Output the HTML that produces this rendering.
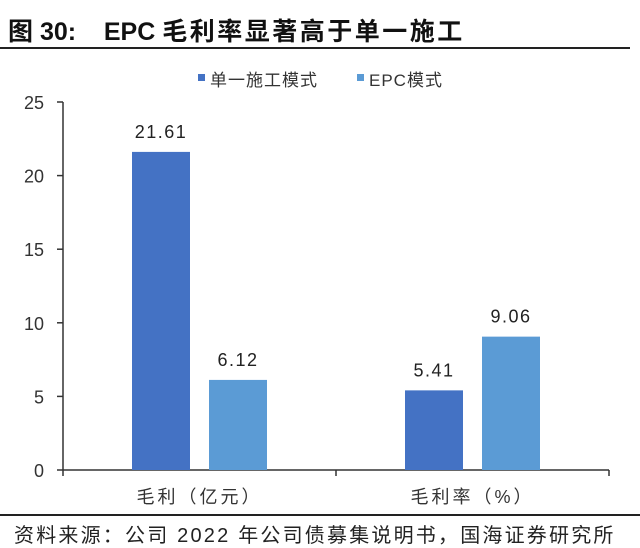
<!DOCTYPE html>
<html><head><meta charset="utf-8"><style>
body{margin:0;background:#fff;}
svg{display:block;font-family:"Liberation Sans","Noto Sans CJK SC",sans-serif;}
</style></head><body>
<svg width="640" height="548">
<text x="8" y="40" font-size="25" font-weight="bold" fill="#111" xml:space="preserve">图 30:&#160;&#160;&#160;&#160;EPC <tspan letter-spacing="2.5">毛利率显著高于单一施工</tspan></text>
<line x1="0" y1="48" x2="630" y2="48" stroke="#222" stroke-width="2"/>
<g>
<rect x="198" y="74" width="7" height="7" fill="#4472c4"/>
<text x="210" y="86" font-size="17" fill="#333" letter-spacing="1">单一施工模式</text>
<rect x="357" y="74" width="7" height="7" fill="#5b9bd5"/>
<text x="369" y="86" font-size="17" fill="#333" letter-spacing="1">EPC模式</text>
</g>
<g id="plot"></g>
<line x1="0" y1="515" x2="640" y2="515" stroke="#222" stroke-width="2"/>
<text x="14" y="542" font-size="20" fill="#222" letter-spacing="2.2">资料来源：公司 2022 年公司债募集说明书，国海证券研究所</text>
</svg>
<script>
const categories=["毛利（亿元）","毛利率（%）"];
const singleVals=[21.61,5.41];
const epcVals=[6.12,9.06];
const yTicks=[0,5,10,15,20,25];
const NS="http://www.w3.org/2000/svg";
const g=document.getElementById('plot');
const x0=63,x1=609,y0=470,yTop=102,yMax=25;
const y=v=>y0-(v/yMax)*(y0-yTop);
const catW=(x1-x0)/categories.length;
const cx=i=>x0+catW*(i+0.5);
function mk(t,a){const e=document.createElementNS(NS,t);for(const k in a)e.setAttribute(k,a[k]);g.appendChild(e);return e;}
let ax=mk('line',{x1:x0,y1:yTop,x2:x0,y2:y0,stroke:'#333','stroke-width':1.5});


yTicks.forEach(t=>{
 let l=mk('line',{x1:x0-6,y1:y(t),x2:x0,y2:y(t),stroke:'#333','stroke-width':1.5});
 
 
 let tx=mk('text',{x:x0-19,y:y(t)+7,'font-size':18,'text-anchor':'end',fill:'#333'});
 tx.textContent=t;
 
 
});
let xa=mk('line',{x1:x0,y1:y0,x2:x1,y2:y0,stroke:'#333','stroke-width':1.5});


for(let i=0;i<=categories.length;i++){
 let l=mk('line',{x1:x0+catW*i,y1:y0,x2:x0+catW*i,y2:y0+6,stroke:'#333','stroke-width':1.5});
 
 
}
const bw=58,gap=19;
categories.forEach((c,i)=>{
 [[singleVals,'#4472c4',-1,'single'],[epcVals,'#5b9bd5',1,'epc']].forEach(([arr,col,s,nm])=>{
  const bx=s<0?cx(i)-gap/2-bw:cx(i)+gap/2;
  let r=mk('rect',{x:bx,y:y(arr[i]),width:bw,height:y0-y(arr[i]),fill:col});
  
  
  let t=mk('text',{x:bx+bw/2,y:y(arr[i])-14,'font-size':18,'text-anchor':'middle',fill:'#222','letter-spacing':'1.5'});
  t.textContent=arr[i].toFixed(2);
  
  
 });
 let t=mk('text',{x:cx(i),y:503,'font-size':18,'text-anchor':'middle',fill:'#333','letter-spacing':'3'});
 t.textContent=c;
 
 
});
</script>
</body></html>
